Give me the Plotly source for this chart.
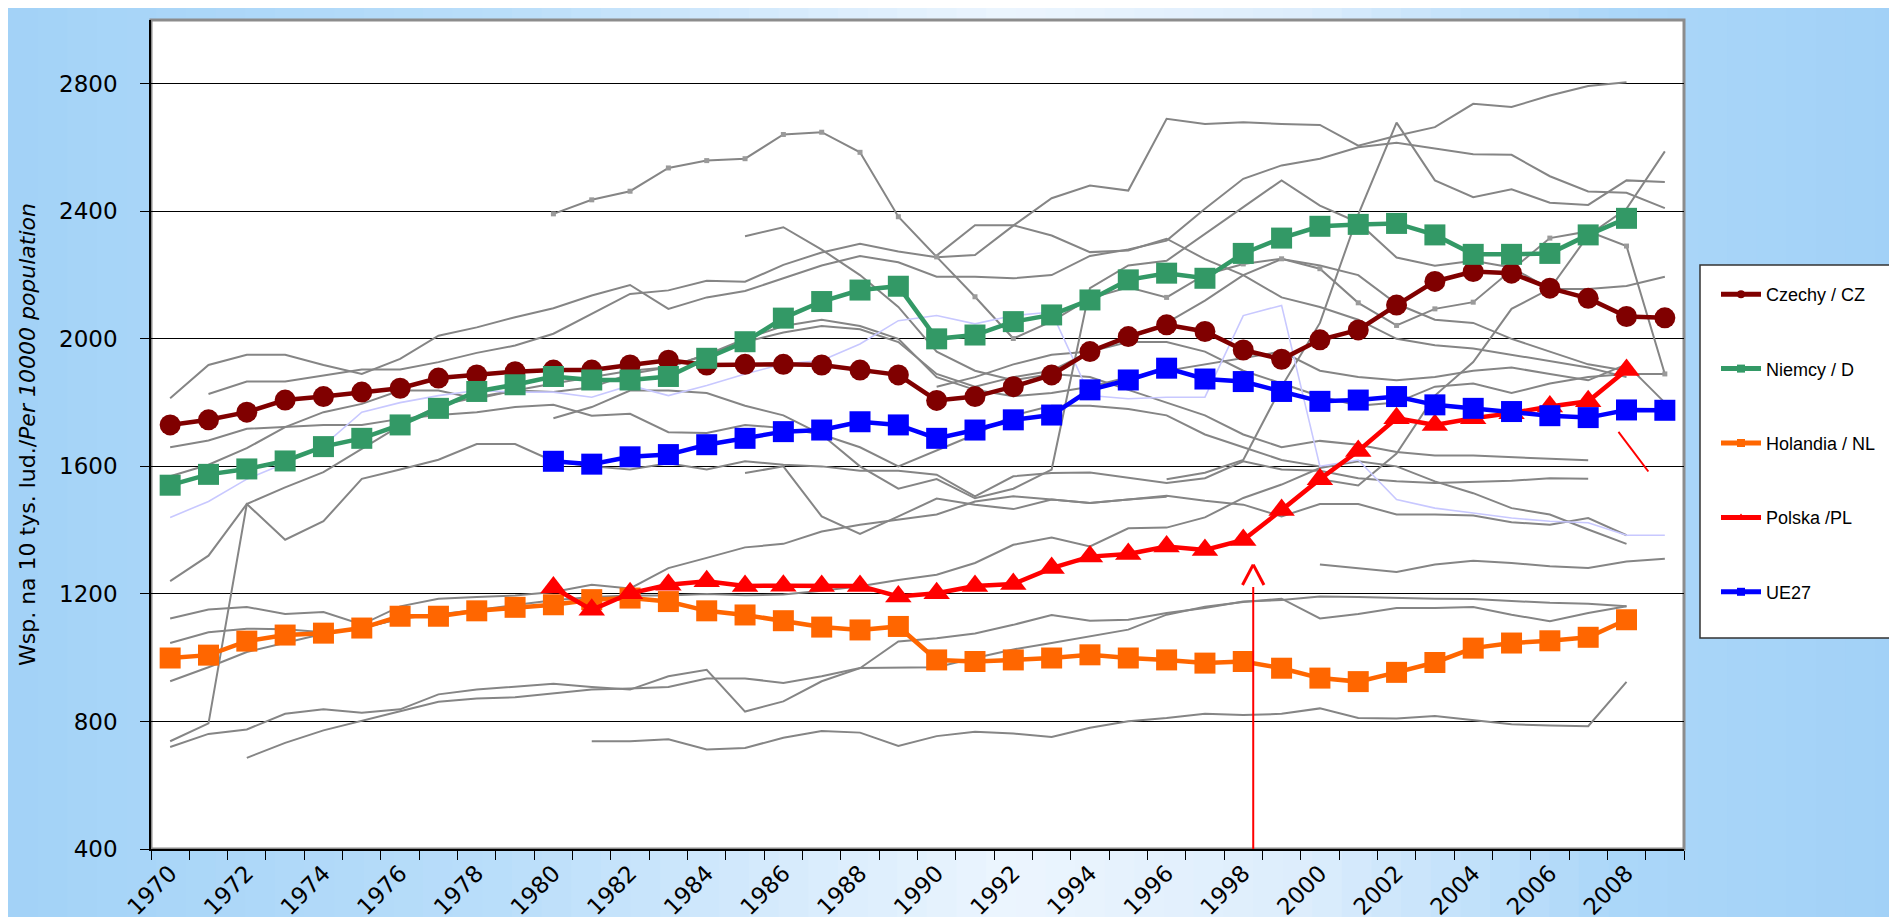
import plotly.graph_objects as go

# ---------------- data ----------------
years = list(range(1970, 2010))
tick_years = list(range(1970, 2009, 2))
y_ticks = [400, 800, 1200, 1600, 2000, 2400, 2800]

czechy = [1730, 1746, 1770, 1808, 1819, 1833, 1845, 1877, 1887, 1897,
          1902, 1902, 1918, 1933, 1918, 1920, 1920, 1918, 1902, 1887,
          1807, 1819, 1850, 1887, 1960, 2007, 2044, 2023, 1965, 1936,
          1997, 2028, 2106, 2180, 2211, 2206, 2159, 2127, 2070, 2066]
niemcy = [1541, 1575, 1592, 1617, 1662, 1688, 1730, 1782, 1835, 1856,
          1882, 1871, 1871, 1882, 1939, 1991, 2065, 2117, 2153, 2165,
          2000, 2012, 2054, 2075, 2122, 2185, 2206, 2190, 2268, 2316,
          2353, 2359, 2362, 2326, 2265, 2265, 2268, 2326, 2378, None]
holandia = [999, 1008, 1052, 1071, 1077, 1093, 1130, 1130, 1147, 1158,
            1166, 1182, 1187, 1176, 1147, 1134, 1116, 1096, 1087, 1098,
            993, 988, 993, 999, 1009, 999, 993, 983, 988, 967,
            936, 925, 954, 985, 1030, 1046, 1053, 1064, 1119, None]
polska = [None] * 10 + [1220, 1150, 1202, 1229, 1240, 1225, 1226, 1225, 1225, 1192,
                        1202, 1225, 1231, 1281, 1317, 1325, 1349, 1338, 1369, 1463,
                        1560, 1648, 1751, 1730, 1751, 1767, 1788, 1804, 1902, None]
ue27 = [None] * 10 + [1616, 1607, 1630, 1637, 1668, 1688, 1709, 1714, 1740, 1730,
                      1688, 1714, 1746, 1761, 1840, 1871, 1908, 1874, 1866, 1835,
                      1804, 1808, 1819, 1793, 1782, 1772, 1759, 1753, 1777, 1776]

# light lavender country line
lavender = [1440, 1490, 1560, 1610, 1665, 1770, 1800, 1822, 1838, 1833,
            1833, 1817, 1854, 1822, 1854, 1890, 1921, 1932, 1984, 2057,
            2073, 2047, 2073, 2084, 1822, 1812, 1817, 1817, 2073, 2105,
            1600, 1620, 1496, 1469, 1454, 1438, 1428, 1423, 1384, 1384]

# other countries (grey), each: first year + values
gray_marked_start = 1980
gray_marked = [2392, 2436, 2463, 2536, 2559, 2565, 2641, 2648, 2585, 2383,
               2257, 2132, 2001, 2055, 2127, 2162, 2130, 2201, 2235, 2251,
               2220, 2113, 2042, 2094, 2115, 2214, 2316, 2337, 2291, 1890]

gray_02 = (1971, [1827, 1866, 1866, 1885, 1904, 1904, 1927, 1956, 1979, 2016, 2078, 2141, 2152,
                  2182, 2179, 2232, 2271, 2298, 2274, 2256, 2263, 2355, 2441, 2481, 2465, 2690,
                  2674, 2679, 2674, 2671, 2606, 2637, 2664, 2737, 2727, 2763, 2793, 2805])
gray_03 = (1970, [1814, 1918, 1950, 1950, 1918, 1890, 1937, 2010, 2036, 2068, 2096, 2136, 2169,
                  2094, 2130, 2150, 2190, 2230, 2260, 2240, 2195, 2195, 2190, 2200, 2260, 2280,
                  2308, 2408, 2502, 2544, 2565, 2601, 2615, 2596, 2579, 2577, 2510, 2462, 2458, 2410])
gray_04 = (1985, [2322, 2350, 2280, 2200, 2100, 1960, 1900, 1870, 1890, 1880, 1840, 1800, 1760,
                  1700, 1660, 1680, 1668, 1645, 1634, 1634, 1628, 1624, 1619])
gray_05 = (1970, [738, 794, 1482, 1534, 1582, 1655, 1728, 1791, 1817, 1838, 1833, 1848, 1890,
                  1911, 1950, 1990, 2020, 2040, 2030, 1990, 1890, 1850, 1880, 1900, 1960, 2000,
                  2050, 2120, 2200, 2250, 2230, 2200, 2110, 2060, 2050, 2000, 1960, 1920, 1900])
gray_06 = (1970, [1240, 1320, 1482, 1370, 1428, 1561, 1590, 1621, 1670, 1670, 1616, 1600, 1590,
                  1610, 1590, 1616, 1605, 1600, 1586, 1586, 1574, 1506, 1569, 1579, 1581, 1565,
                  1548, 1563, 1616, 1590, 1586, 1563, 1553, 1548, 1551, 1555, 1563, 1561])
gray_07 = (1970, [1123, 1151, 1159, 1137, 1143, 1104, 1161, 1185, 1190, 1195, 1206, 1229, 1217,
                  1281, 1313, 1346, 1357, 1396, 1417, 1433, 1449, 1490, 1506, 1496, 1485, 1496,
                  1508, 1492, 1480, 1443, 1482, 1482, 1449, 1449, 1446, 1425, 1417, 1438, 1384])
gray_08 = (1970, [1046, 1080, 1091, 1089, 1080, 1093, 1122, 1135, 1150, 1165, 1180, 1190, 1195,
                  1195, 1200, 1196, 1198, 1210, 1224, 1244, 1260, 1297, 1354, 1377, 1349, 1406,
                  1408, 1440, 1501, 1543, 1595, 1616, 1600, 1553, 1516, 1469, 1449, 1402, 1357])
gray_09 = (1970, [926, 970, 1018, 1046, 1075, 1093, 1122])
gray_10 = (1985, [1579, 1600, 1443, 1388, 1443, 1499, 1480, 1466, 1496, 1485, 1496, 1505])
gray_11 = (1970, [720, 761, 775, 824, 838, 827, 838, 885, 900, 908, 918, 908, 900, 942, 962,
                  831, 863, 926, 967, 1051, 1061, 1076, 1103, 1134, 1116, 1119, 1140, 1156,
                  1176, 1181, 1192, 1190, 1187, 1185, 1184, 1177, 1172, 1169, 1161])
gray_12 = (1972, [686, 733, 772, 801, 832, 862, 872, 876, 888, 900, 903, 908, 935, 935, 921,
                  942, 968, 970, 970, 999, 1026, 1046, 1067, 1088, 1135, 1160, 1175, 1185,
                  1123, 1137, 1156, 1156, 1159, 1135, 1114, 1140, 1161])
gray_13 = (1981, [738, 738, 744, 712, 717, 749, 770, 765, 723, 754, 768, 762, 751, 780, 801,
                  811, 824, 820, 824, 841, 811, 809, 817, 803, 791, 787, 785, 924])
gray_14 = (2000, [1292, 1281, 1269, 1292, 1304, 1297, 1287, 1281, 1302, 1310])
gray_15 = (1980, [1751, 1786, 1838, 1838, 1830, 1790, 1760, 1700, 1600, 1530, 1560, 1500, 1530,
                  1590, 2159, 2230, 2245, 2330, 2413, 2497, 2418, 2365, 2255, 2229, 2245, 2224,
                  2156, 2156, 2166, 2195])
gray_16 = (1996, [1560, 1580, 1620, 1850, 2050, 2390, 2678, 2497, 2444, 2469, 2427, 2420, 2497, 2492])
gray_17 = (1990, [2261, 2356, 2356, 2324, 2272, 2277, 2314, 2250, 2200, 2130, 2100, 2060, 2000,
                  1980, 1970, 1950, 1930, 1910, 1880])
gray_18 = (2000, [1560, 1540, 1640, 1822, 1927, 2094, 2157, 2324, 2408, 2588])
gray_19 = (1970, [1660, 1681, 1718, 1723, 1730, 1730, 1749, 1761, 1770, 1786, 1793, 1759, 1765,
                  1707, 1705, 1730, 1720, 1700, 1660, 1600, 1650, 1700, 1760, 1790, 1790, 1780,
                  1760, 1700, 1660, 1620, 1600])
gray_20 = (1970, [1569, 1605, 1657, 1723, 1770, 1796, 1838, 1838, 1812, 1838, 1860, 1880, 1900,
                  1911, 1950, 2000, 2040, 2060, 2040, 2000, 1880, 1840, 1820, 1830, 1850, 1880,
                  1900, 1920, 1940, 1960, 1900, 1880, 1870, 1880, 1900, 1910, 1890, 1870, 1920, 1800])
gray_21 = (1990, [1850, 1880, 1920, 1950, 1960, 1990, 1990, 1960, 1900, 1860, 1820, 1790, 1800,
                  1850, 1860, 1830, 1860, 1880, 1890, 1890])

gray_lines = [gray_02, gray_03, gray_04, gray_05, gray_06, gray_07, gray_08, gray_09, gray_10,
              gray_11, gray_12, gray_13, gray_14, gray_15, gray_16, gray_17, gray_18, gray_19,
              gray_20, gray_21]

legend_names = ["Czechy / CZ", "Niemcy / D", "Holandia / NL", "Polska /PL", "UE27"]
colors = ["#800000", "#339966", "#FF6600", "#FF0000", "#0000FF"]
symbols = ["circle", "square", "square", "triangle-up", "square"]
main_series = [czechy, niemcy, holandia, polska, ue27]

# annotation (red arrow) positions
arrow_year = 1998.26
arrow_tip, arrow_base, arrow_half = 1292, 1228, 0.28
slash_x = [2007.79, 2008.57]
slash_y = [1708, 1584]


def span(start, vals):
    lead = start - years[0]
    out = [None] * lead + list(vals)
    return out + [None] * (len(years) - len(out))


# ---------------- figure ----------------
W, H = 1897, 917
L, R, T, B = 143, 1676, 12, 841
pw, ph = R - L, B - T


def px_x(p):
    return (p - L) / pw


def px_y(p):
    return (B - p) / ph


fig = go.Figure()

for start, vals in gray_lines:
    fig.add_trace(go.Scatter(x=years, y=span(start, vals), mode="lines",
                             line=dict(color="#858585", width=2),
                             showlegend=False, hoverinfo="skip"))
fig.add_trace(go.Scatter(x=years, y=span(gray_marked_start, gray_marked), mode="lines+markers",
                         line=dict(color="#858585", width=2),
                         marker=dict(symbol="square", size=5, color="#9a9a9a"),
                         showlegend=False, hoverinfo="skip"))
fig.add_trace(go.Scatter(x=years, y=lavender, mode="lines",
                         line=dict(color="#C8C8FF", width=1.6),
                         showlegend=False, hoverinfo="skip"))

for name, vals, col, sym in zip(legend_names, main_series, colors, symbols):
    fig.add_trace(go.Scatter(x=years, y=vals, mode="lines+markers", name=name,
                             line=dict(color=col, width=4.5),
                             marker=dict(symbol=sym, size=21 if sym != "triangle-up" else 23,
                                         color=col),
                             showlegend=False))

# legend-only entries with small markers
for i, (name, col, sym) in enumerate(zip(legend_names, colors, symbols)):
    fig.add_trace(go.Scatter(x=[None], y=[None], mode="lines+markers", name=name,
                             legendgroup=f"g{i}",
                             line=dict(color=col, width=5),
                             marker=dict(symbol=sym, size=8, color=col)))

# background gradient strips
stops = [(0, (162, 210, 247)), (500, (186, 222, 250)), (1000, (236, 245, 254)),
         (1300, (220, 237, 252)), (1600, (172, 215, 249)), (1897, (162, 209, 247))]


def grad(px):
    for (a, ca), (b, cb) in zip(stops[:-1], stops[1:]):
        if a <= px <= b:
            t = (px - a) / (b - a)
            return "rgb(%d,%d,%d)" % tuple(round(ca[k] + (cb[k] - ca[k]) * t) for k in range(3))
    return "rgb(%d,%d,%d)" % stops[-1][1]


shapes = []
n = 64
for i in range(n):
    x0 = W * i / n
    x1 = W * (i + 1) / n + 1
    shapes.append(dict(type="rect", xref="paper", yref="paper", layer="below",
                       x0=px_x(x0), x1=px_x(x1), y0=px_y(H), y1=px_y(0),
                       fillcolor=grad((x0 + x1) / 2), line=dict(width=0)))
# plot area
shapes.append(dict(type="rect", xref="paper", yref="paper", layer="below",
                   x0=0, x1=1, y0=0, y1=1, fillcolor="white",
                   line=dict(color="#8c8c8c", width=3)))
# legend box
shapes.append(dict(type="rect", xref="paper", yref="paper", layer="below",
                   x0=px_x(1692), x1=px_x(1910), y0=px_y(630), y1=px_y(257),
                   fillcolor="white", line=dict(color="#333333", width=1.5)))
# red arrow
red = dict(color="#FF0000", width=2)
shapes.append(dict(type="line", xref="x", yref="y", x0=arrow_year, x1=arrow_year,
                   y0=y_ticks[0], y1=arrow_base - 6, line=red))
shapes.append(dict(type="line", xref="x", yref="y", x0=arrow_year - arrow_half, x1=arrow_year,
                   y0=arrow_base, y1=arrow_tip, line=dict(color="#FF0000", width=3)))
shapes.append(dict(type="line", xref="x", yref="y", x0=arrow_year, x1=arrow_year + arrow_half,
                   y0=arrow_tip, y1=arrow_base, line=dict(color="#FF0000", width=3)))
shapes.append(dict(type="line", xref="x", yref="y", x0=slash_x[0], x1=slash_x[1],
                   y0=slash_y[0], y1=slash_y[1], line=red))

font_main = "DejaVu Sans"

fig.update_layout(
    width=W, height=H,
    margin=dict(l=L, r=W - R, t=T, b=H - B, autoexpand=False),
    paper_bgcolor="#a6d5f8",
    plot_bgcolor="rgba(0,0,0,0)",
    shapes=shapes,
    showlegend=True,
    legend=dict(x=px_x(1708), y=px_y(268), xanchor="left", yanchor="top",
                bgcolor="rgba(0,0,0,0)", borderwidth=0,
                font=dict(family="Liberation Sans", size=18, color="black"),
                tracegroupgap=48, itemwidth=40, traceorder="grouped"),
    annotations=[dict(text="Wsp. na 10 tys. lud./<i>Per 10000 population</i>",
                      xref="paper", yref="paper", x=px_x(20), y=px_y(427),
                      xanchor="center", yanchor="middle", textangle=-90, showarrow=False,
                      font=dict(family=font_main, size=22, color="black"))],
)

fig.update_xaxes(
    type="linear", range=[1969.5, 2009.5],
    tickmode="array", tickvals=tick_years, ticktext=[str(y) for y in tick_years],
    tickangle=-45, ticks="", showgrid=False, zeroline=False,
    showline=True, linecolor="black", linewidth=1.5,
    tickfont=dict(family=font_main, size=23, color="black"),
    minor=dict(tickmode="array", tickvals=[y - 0.5 for y in years] + [years[-1] + 0.5],
               ticks="outside", ticklen=9, tickcolor="black", tickwidth=1.2, showgrid=False),
)
fig.update_yaxes(
    range=[400, 3000], tickmode="array", tickvals=y_ticks,
    ticks="outside", ticklen=9, tickcolor="black", tickwidth=1.2,
    showgrid=True, gridcolor="black", gridwidth=1.3, zeroline=False,
    showline=True, linecolor="black", linewidth=1.5,
    tickfont=dict(family=font_main, size=23, color="black"),
    ticklabelstandoff=18,
)

fig.write_html("out.html")
